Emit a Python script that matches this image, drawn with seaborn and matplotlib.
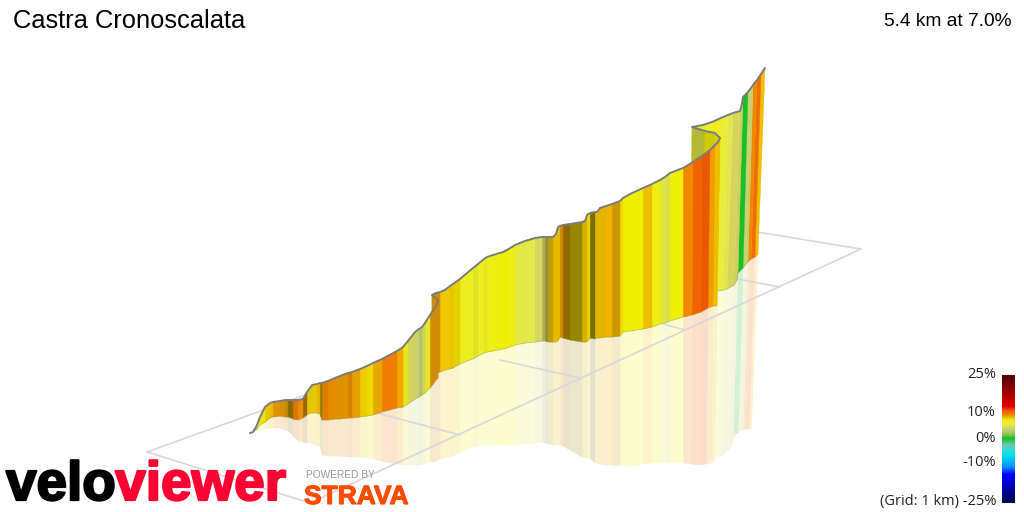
import matplotlib
matplotlib.use("Agg")
import matplotlib.pyplot as plt
import matplotlib.patheffects as pe
from matplotlib.colors import LinearSegmentedColormap, to_rgb
import numpy as np
import pandas as pd
import seaborn as sns

# wall stations along the climb (view pixels)
top_x = [250, 253, 257, 260, 265, 270, 273, 280, 285, 288, 291, 293, 298, 303, 307, 310, 312, 317, 320, 322,
         328, 335, 340, 348, 352, 360, 367, 373, 382, 397, 403, 408, 415, 419, 422, 425, 430, 434, 436, 438,
         437, 432, 436, 440, 445, 450, 453, 460, 467, 473, 478, 484, 487, 493, 503, 507, 515, 525, 535, 542,
         545, 548, 553, 556, 558, 560, 563, 570, 582, 585, 587, 590, 595, 597, 600, 606, 612, 620, 623, 630,
         643, 652, 660, 665, 670, 683, 693, 702, 710, 715, 718, 720, 715, 705, 692, 703, 712, 723, 728, 733,
         740, 742, 743, 748, 751, 753, 757, 761, 765]
top_y = [433, 432, 425, 417, 407, 403, 402, 401, 400, 400, 400, 400, 400, 399, 392, 388, 385, 384, 383, 383,
         381, 378, 376, 373, 372, 369, 366, 363, 359, 351, 347, 341, 332, 329, 327, 323, 315, 309, 306, 302,
         299, 295, 293, 292, 290, 286, 284, 279, 273, 268, 264, 259, 257, 255, 252, 250, 245, 241, 238, 237,
         237, 237, 237, 234, 227, 226, 225, 224, 222, 221, 215, 213, 212, 212, 208, 206, 204, 201, 198, 194,
         188, 184, 180, 177, 173, 168, 162, 156, 150, 145, 142, 138, 133, 131, 127, 125, 122, 117, 115, 113,
         111, 104, 97, 92, 88, 85, 80, 74, 68]
base_y = [433, 432, 429, 425, 422, 418, 417, 416, 417, 417, 418, 419, 420, 418, 415, 413, 413, 413, 414, 420,
          420, 419, 419, 418, 418, 417, 416, 415, 412, 408, 407, 404, 399, 397, 395, 393, 388, 383, 380, 378,
          376, 374, 373, 372, 370, 369, 368, 364, 361, 359, 356, 353, 352, 351, 349, 348, 345, 343, 342, 341,
          341, 342, 342, 342, 341, 337, 338, 340, 342, 342, 342, 338, 339, 338, 338, 337, 337, 336, 332, 331,
          329, 327, 324, 323, 321, 317, 315, 312, 308, 306, 306, 305, 302, 300, 298, 296, 294, 291, 290, 289,
          285, 280, 273, 268, 264, 262, 259, 257, 254]
mirror_y = [434, 433, 431, 430, 429, 428, 428, 428, 430, 431, 433, 436, 441, 442, 443, 443, 444, 445, 446, 455,
            456, 456, 456, 457, 457, 457, 458, 459, 461, 464, 465, 465, 465, 465, 464, 464, 462, 460, 459, 458,
            458, 462, 461, 459, 458, 457, 456, 452, 449, 447, 446, 445, 445, 444, 445, 445, 445, 444, 443, 442,
            443, 444, 445, 445, 445, 445, 446, 450, 457, 458, 458, 459, 462, 463, 464, 465, 465, 466, 466, 466,
            464, 463, 463, 463, 463, 463, 464, 465, 464, 463, 461, 460, 459, 458, 456, 456, 456, 456, 456, 457,
            450, 445, 437, 432, 430, 430, 429, 429, 428]
lean = [0, 0, 0, 0, 0, 0, 0, 0, 0, 0, 0, 0, 0, 0, 0, 0, 0, 0, 0, 0,
        0, 0, 0, 0, 0, 0, 0, 0, 0, 0, 0, 0, 0, 0, 0, 0, 0, 0, 0, 0,
        0, 0, 0, 0, 0, 0, 0, 0, 0, 0, 0, 0, 0, 0, 0, 0, 0, 0, 0, 0,
        0, 0, 0, 0, 0, 0, 0, 0, 0, 0, 0, 0, 0, 0, 0, 0, 0, 0, 0, 0,
        0, 0, 0, 0, 0, 0, 1, 1, 2, 2, 2, 3, 2, 2, 1, 2, 3, 5, 5, 6,
        6, 5, 5, 5, 5, 5, 6, 6, 7]
# gradient (%) and face brightness of the stretch that starts at each station
grade = [0.5, 3, 6.5, 7.5, 8.3, 8.5, 9, 9, 8.7, 8.5, 9, 9.5, 9.3, 9, 8.1, 8.1, 8.1, 8.5, 8, 9.5,
         9.2, 9, 9, 9.2, 8.9, 8.2, 7.9, 8.7, 9.8, 8.8, 6.8, 4.8, 4, 3.6, 4.5, 6.5, 9, 9, 9, 9,
         9, 9, 9, 8.3, 8.3, 8.3, 7.9, 6.8, 6.8, 6.5, 6.7, 6.6, 6.9, 7.2, 7.6, 7.1, 5.8, 5.8, 4.5, 5,
         5, 8.3, 8.4, 8.4, 8.4, 9, 8.6, 8, 8.3, 8.3, 8.2, 8, 8.3, 8.3, 8.4, 8.7, 8.7, 7.9, 7.5, 7.5,
         8.4, 7.2, 6, 5.5, 7.4, 9.5, 10.8, 11, 9, 8.4, 8.4, 7.4, 7.4, 6, 6.7, 6.5, 6.8, 6, 5.5, 5,
         4.8, 5, 0.4, 4, 4.5, 9.5, 10.5, 8.5, 8.5]
shade = [1, 1, 1, .97, .97, .97, .93, .9, .78, .55, .65, .9, .97, .65, .95, .95, .95, .95, .57, .93,
         .95, .93, .92, .88, .95, .98, 1, .95, 1, 1, .97, .97, 1, .95, .97, .97, .88, .88, .88, .88,
         .88, .88, .88, 1, 1, .97, .95, 1, 1, .95, 1, .97, 1, 1, 1, 1, 1, 1, 1, .8,
         .65, .8, .97, .97, .97, .85, .6, .62, .88, .9, 1, .5, .92, .92, .95, 1, .85, 1, 1, 1,
         1, 1, .97, .97, 1, 1, 1, .97, 1, 1, 1, .88, .85, .78, 1, 1, 1, 1, 1, .97,
         .95, .9, 1, 1, .95, 1, 1, 1, 1]
# 0 first stretch, 1 after the low switchback, 2 hidden, 3 top stretch
base_part = [0] * 40 + [2] + [1] * 51 + [2] * 5 + [3] * 12

# ground grid, pairs of view pixels
grid_lines = [((147, 452), (757, 232)), ((757, 232), (861, 249)), ((861, 249), (310, 503)), ((310, 503), (147, 452)),
              ((460, 435), (377, 413)), ((580, 378), (500, 360)), ((685, 330), (663, 324)), ((780, 287), (738, 279))]

bar_ticks = ["25%", "10%", "0%", "-10%", "(Grid: 1 km) -25%"]
bar_tick_y = [374, 412, 438, 463, 502]

grade_stops = [-25, -14, -11, -6, -2.5, 0.4, 2, 4, 5, 6, 7.5, 8.5, 9.5, 11, 13, 25]
grade_colors = ["#000050", "#0000ff", "#0090ff", "#00e8e8", "#70c8b8", "#10c020", "#90c850", "#c8d070",
                "#dcdc60", "#e8ec40", "#f0f000", "#f0c000", "#f08800", "#f06000", "#e00000", "#500000"]
cmap = LinearSegmentedColormap.from_list("grade", [((g + 25) / 50, c) for g, c in zip(grade_stops, grade_colors)])

sns.set_theme(style="white")
plt.rcParams["font.family"] = ["Liberation Sans", "DejaVu Sans"]

fig = plt.figure(figsize=(10.24, 5.12), dpi=100)
ax = fig.add_axes([0, 0, 1, 1])

df = pd.DataFrame({"x": top_x, "top": top_y, "base": base_y, "mirror": mirror_y, "lean": lean,
                   "grade": grade, "shade": shade, "part": base_part})
df["base_x"] = df["x"] - df["lean"]
height = (df["base"] - df["top"]).clip(lower=1)
df["mirror_x"] = df["base_x"] - df["lean"] * (df["mirror"] - df["base"]) / height


def wall_color(row):
    rgb = np.array(to_rgb(cmap((row["grade"] + 25) / 50)))
    return rgb * row["shade"]


# reflection under the walls, farthest stretch first
for i in range(len(df) - 2, -1, -1):
    a, b = df.iloc[i], df.iloc[i + 1]
    c = 1 - 0.2 * (1 - wall_color(a))
    ax.fill([a["base_x"], b["base_x"], b["mirror_x"], a["mirror_x"]], [a["base"], b["base"], b["mirror"], a["mirror"]],
            color=c, lw=0.3, zorder=1)

for p, q in grid_lines:
    ax.plot([p[0], q[0]], [p[1], q[1]], color="#d8d8dc", lw=1.2, zorder=2)

for i in range(len(df) - 2, -1, -1):
    a, b = df.iloc[i], df.iloc[i + 1]
    ax.fill([a["x"], b["x"], b["base_x"], a["base_x"]], [a["top"], b["top"], b["base"], a["base"]],
            color=wall_color(a), lw=0.3, zorder=3)

seen = df[df["part"] != 2]
sns.lineplot(data=seen, x="base_x", y="base", units="part", sort=False, estimator=None, color="#9a9a50", lw=0.6,
             alpha=0.5, ax=ax, zorder=4, legend=False)
sns.lineplot(data=df, x="x", y="top", sort=False, estimator=None, color="#7c7c7c", lw=1.4, ax=ax, zorder=5)
ax.set_xlim(0, 1024)
ax.set_ylim(512, 0)
ax.axis("off")

ax.text(13, 21, "Castra Cronoscalata", fontsize=18.4, color="black", va="center", ha="left", zorder=6)
ax.text(1011, 21, "5.4 km at 7.0%", fontsize=13.8, color="black", va="center", ha="right", zorder=6)

for label, y in zip(bar_ticks, bar_tick_y):
    ax.text(996, y, label, fontsize=10.5, family="Open Sans", color="#222222", va="center", ha="right", zorder=6)

# colour key
cax = fig.add_axes([1002 / 1024, 1 - 503 / 512, 13 / 1024, 128 / 512])
ramp = np.linspace(25, -25, 128).reshape(-1, 1)
sns.heatmap(ramp, ax=cax, cmap=cmap, vmin=-25, vmax=25, cbar=False, xticklabels=False, yticklabels=False)

# logo text
ax.text(6, 500, "velo", fontsize=39.5, fontweight="bold", color="black", va="baseline", ha="left", zorder=6,
        path_effects=[pe.withStroke(linewidth=1.6, foreground="black")])
ax.text(286, 500, "viewer", fontsize=39.5, fontweight="bold", color="#ff0033", va="baseline", ha="right", zorder=6,
        path_effects=[pe.withStroke(linewidth=1.6, foreground="#ff0033")])
ax.text(306, 478, "POWERED BY", fontsize=7.3, color="#999999", va="baseline", ha="left", zorder=6)
ax.text(304, 504, "STRAVA", fontsize=19, fontweight="bold", color="#fc4c02", va="baseline", ha="left", zorder=6,
        path_effects=[pe.withStroke(linewidth=0.8, foreground="#fc4c02")])

fig.savefig("out.png", dpi=100)
plt.close(fig)
